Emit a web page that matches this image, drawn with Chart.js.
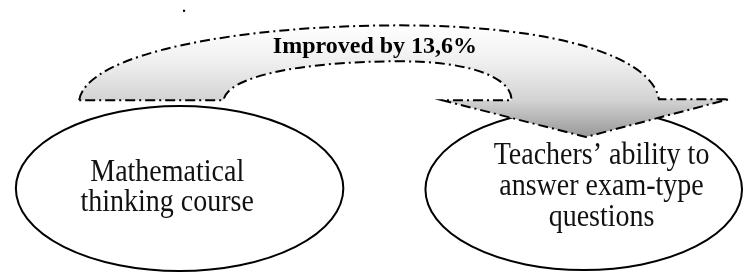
<!DOCTYPE html>
<html>
<head>
<meta charset="utf-8">
<script src="https://cdn.jsdelivr.net/npm/chart.js@4.4.1/dist/chart.umd.min.js"></script>
<style>
  body { margin: 0; background: #fff; }
  #wrap { width: 747px; height: 276px; }
</style>
</head>
<body>
<div id="wrap"><canvas id="diagram" width="747" height="276"></canvas></div>
<script>
// data
var nodeNames = ["course", "ability"];
var nodeLabels = [
  ["Mathematical", "thinking course"],
  ["Teachers\u2019 ability to", "answer exam-type", "questions"]
];
var improvement = [13.6];

// layout, in scale units (1 unit = 1px of the 747x276 frame)
var layout = {
  nodes: [
    { cx: 177.5, cy: 190, rx: 165.5, ry: 85, tx: 165, ty: [182, 213] },
    { cx: 586, cy: 191, rx: 160, ry: 83, tx: 604, ty: [165, 197, 229] }
  ],
  label: { x: 375, y: 50 },
  stray: [{ x: 182, y: 7 }]
};

function improvementText(v){
  return "Improved by " + v.toFixed(1).replace(".", ",") + "%";
}

function px(chart, x, y){
  return [chart.scales.x.getPixelForValue(x), chart.scales.y.getPixelForValue(y)];
}

var diagramPlugin = {
  id: "diagram",
  beforeDatasetsDraw: function(chart){
    var ctx = chart.ctx;
    ctx.save();

    // ellipses
    layout.nodes.forEach(function(n, i){
      var c = px(chart, n.cx, n.cy);
      var e = px(chart, n.cx + n.rx, n.cy + n.ry);
      ctx.beginPath();
      ctx.ellipse(c[0], c[1], Math.abs(e[0] - c[0]), Math.abs(e[1] - c[1]), 0, 0, Math.PI * 2);
      ctx.fillStyle = "#fff";
      ctx.fill();
      ctx.lineWidth = 2;
      ctx.strokeStyle = "#000";
      ctx.setLineDash([]);
      ctx.stroke();

      ctx.fillStyle = "#111";
      ctx.font = "28px 'Liberation Serif', 'Times New Roman', serif";
      ctx.textAlign = "center";
      ctx.textBaseline = "alphabetic";
      nodeLabels[i].forEach(function(line, k){
        var p = px(chart, n.tx, n.ty[k]);
        ctx.save();
        ctx.translate(p[0], p[1]);
        ctx.scale(1, 1.12); // source text is a bit taller than wide
        ctx.fillText(line, 0, 0);
        ctx.restore();
      });
    });

    // curved arrow
    function P(x, y){ return px(chart, x, y); }
    function M(a){ var p = P(a[0], a[1]); ctx.moveTo(p[0], p[1]); }
    function L(a){ var p = P(a[0], a[1]); ctx.lineTo(p[0], p[1]); }
    function C(a, b, c){
      var p1 = P(a[0], a[1]), p2 = P(b[0], b[1]), p3 = P(c[0], c[1]);
      ctx.bezierCurveTo(p1[0], p1[1], p2[0], p2[1], p3[0], p3[1]);
    }
    ctx.beginPath();
    M([76, 99]);
    C([84, 50], [240, 22], [400, 22]);
    C([560, 22], [655, 55], [662, 98]);
    L([733, 98]);
    L([588, 137]);
    L([443, 99]);
    L([513, 99]);
    C([513, 75], [470, 59], [400, 59]);
    C([300, 59], [225, 75], [222, 99]);
    ctx.closePath();

    var g0 = P(0, 22), g1 = P(0, 137);
    var grad = ctx.createLinearGradient(0, g0[1], 0, g1[1]);
    grad.addColorStop(0, "#ffffff");
    grad.addColorStop(0.33, "#efefef");
    grad.addColorStop(0.67, "#d3d3d3");
    grad.addColorStop(1, "#989898");
    ctx.fillStyle = grad;
    ctx.fill();
    ctx.lineWidth = 2;
    ctx.strokeStyle = "#000";
    ctx.setLineDash([10, 4, 2, 4]);
    ctx.stroke();
    ctx.setLineDash([]);

    // arrow label
    var lp = P(layout.label.x, layout.label.y);
    ctx.fillStyle = "#000";
    ctx.font = "bold 24px 'Liberation Serif', 'Times New Roman', serif";
    ctx.textAlign = "center";
    ctx.fillText(improvementText(improvement[0]), lp[0], lp[1]);

    ctx.restore();
  }
};

new Chart(document.getElementById("diagram"), {
  type: "scatter",
  data: {
    datasets: [{
      data: layout.stray,
      pointRadius: 1.5,
      pointBackgroundColor: "#000",
      pointBorderWidth: 0,
      pointStyle: "rect"
    }]
  },
  options: {
    responsive: false,
    animation: false,
    layout: { padding: 0 },
    plugins: { legend: { display: false }, tooltip: { enabled: false } },
    scales: {
      x: { type: "linear", min: 0, max: 747, display: false },
      y: { type: "linear", min: 0, max: 276, reverse: true, display: false }
    }
  },
  plugins: [diagramPlugin]
});
</script>
</body>
</html>
